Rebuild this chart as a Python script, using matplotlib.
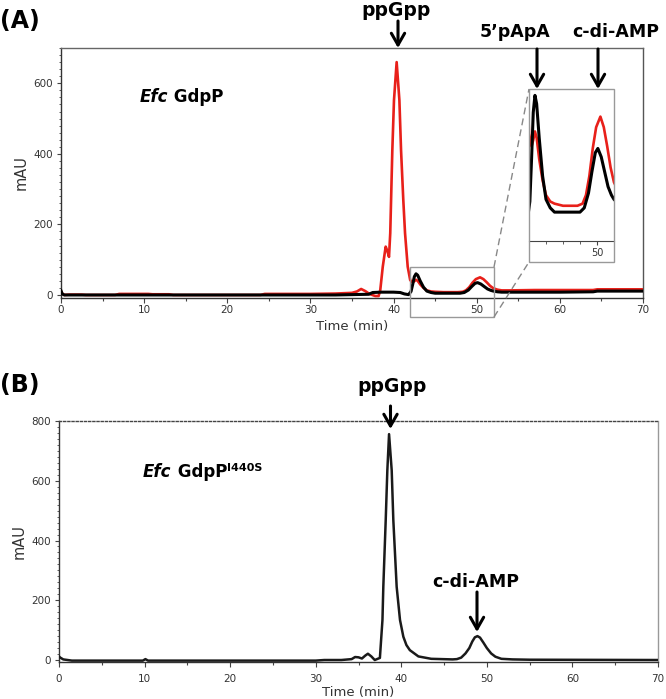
import matplotlib
matplotlib.use('Agg')
import matplotlib.pyplot as plt
from matplotlib.ticker import MultipleLocator, FixedLocator
from matplotlib.patches import Rectangle, FancyArrowPatch
from matplotlib.lines import Line2D

plt.rcParams['font.family'] = ['DejaVu Sans']

# ---------------- data ----------------
# Panel A, red trace (Time min, mAU)
a_red_t = [0, 0.15, 0.4, 1, 2.5, 3, 6.5, 7, 10.5, 11, 13, 13.5, 24, 24.5, 30, 33, 35,
           35.6, 36.1, 36.6, 37.1, 37.8, 38.2, 38.4, 38.7, 39.05, 39.25, 39.45, 39.6,
           39.7, 39.85, 40.05, 40.37, 40.7, 40.9, 41.17, 41.38, 41.7, 42.0, 42.3,
           42.5, 42.7, 42.9, 43.2, 43.6, 44.0, 44.5, 45, 46, 47, 47.7, 48.3,
           48.7, 49.1, 49.5, 49.9, 50.4, 50.8, 51.2, 51.6, 52.0, 52.5, 53.0, 54, 57,
           60, 64, 64.5, 70]
a_red_v = [10, 4, 0, 1, 1, 0, 0, 3, 3, 2, 2, 0, 0, 3, 3, 4, 6,
           10, 17, 11, 3, -3, -3, 14, 80, 137, 125, 108, 175,
           269, 410, 552, 660, 552, 410, 269, 175, 80, 42, 36,
           39, 43, 40, 30, 20, 13, 10, 9, 8, 8, 8, 9,
           13, 22, 35, 45, 50, 45, 36, 26, 19, 15, 13, 13, 14,
           14, 14, 16, 16]

# Panel A, black trace
a_blk_t = [0, 0.15, 0.4, 33, 35, 37, 37.5, 38.5, 40, 40.8, 41.3, 41.8, 42.1, 42.3,
           42.5, 42.7, 42.9, 43.2, 43.6, 44.0, 44.5, 45, 46, 47, 48, 48.5, 49.0,
           49.4, 49.8, 50.1, 50.5, 50.9, 51.3, 51.7, 52.0, 52.5, 53, 55, 60, 64,
           64.5, 70]
a_blk_v = [12, 3, 0, 0, 1, 2, 7, 8, 8, 7, 3, 1, 10, 30,
           52, 60, 56, 40, 22, 11, 7, 5, 5, 5, 5, 7, 14,
           24, 33, 35, 31, 24, 17, 13, 11, 9, 8, 8, 8, 9,
           11, 11]

# Panel B trace
b_t = [0, 0.15, 0.5, 1, 1.5, 5, 9.8, 10.1, 10.4, 20, 30, 31, 33, 34.2, 34.6, 35.0,
       35.4, 35.8, 36.1, 36.5, 36.9, 37.5, 37.8, 37.9, 38.18, 38.37, 38.57,
       38.88, 39.07, 39.46, 39.85, 40.24, 40.6, 41.0, 42.0, 43.5, 46.0, 46.5,
       47.0, 47.5, 47.95, 48.3, 48.6, 48.9, 49.2, 49.6, 50.0, 50.5, 51.0, 51.7,
       53, 55, 70]
b_v = [12, 8, 2, 0, -2, -2, -2, 3, -2, -2, -2, 0, 0, 3, 10, 9,
       5, 15, 21, 12, 0, 7, 134, 245, 468, 635, 756,
       635, 468, 245, 134, 78, 50, 33, 12, 4, 2, 3,
       8, 22, 40, 62, 76, 80, 75, 58, 40, 22, 11, 4,
       2, 1, 0]

x_ticks = [0, 10, 20, 30, 40, 50, 60, 70]
a_y_ticks = [0, 200, 400, 600]
b_y_ticks = [0, 200, 400, 600, 800]
inset_ticks = [50]

RED = '#e8201a'
W, H = 666, 699
fig = plt.figure(figsize=(W / 100, H / 100), dpi=100)


def P(px, py):
    return (px / W, 1 - py / H)


def add_axes_px(l, t, r, b):
    x0, y0 = P(l, b)
    x1, y1 = P(r, t)
    return fig.add_axes([x0, y0, x1 - x0, y1 - y0])


def style_axes(ax, ymaj, xpad, ypad=3):
    ax.set_xlim(0, 70)
    ax.xaxis.set_major_locator(FixedLocator(x_ticks))
    ax.xaxis.set_minor_locator(MultipleLocator(5))
    ax.yaxis.set_major_locator(FixedLocator(ymaj))
    ax.yaxis.set_minor_locator(MultipleLocator(20))
    ax.tick_params(which='both', direction='out', color='#444', width=0.8,
                   labelsize=7.5, labelcolor='#333')
    ax.tick_params(axis='x', which='major', length=3.5, pad=xpad)
    ax.tick_params(axis='x', which='minor', length=2.5)
    ax.tick_params(axis='y', which='major', length=3, pad=ypad)
    ax.tick_params(axis='y', which='minor', length=1.8, width=0.6)
    for s in ['left', 'bottom']:
        ax.spines[s].set_color('#333')
        ax.spines[s].set_linewidth(1.0)


# ---------------- Panel A ----------------
axA = add_axes_px(61, 48, 643, 297.8)
axA.plot(a_red_t, a_red_v, color=RED, lw=1.9, zorder=3)
axA.plot(a_blk_t, a_blk_v, color='black', lw=2.2, zorder=4)
axA.set_ylim(-8, 700)
style_axes(axA, a_y_ticks, xpad=2)
axA.spines['top'].set_color('#666')
axA.spines['right'].set_color('#555')
axA.spines['top'].set_linewidth(1.0)
axA.spines['right'].set_linewidth(1.0)
axA.set_ylabel('mAU', fontsize=10.5, color='#333', labelpad=3)
axA.set_xlabel('Time (min)', fontsize=9.5, color='#333', labelpad=3)

# zoom box and connector lines (figure pixels)
fig.add_artist(Rectangle(P(410, 317), (494 - 410) / W, (317 - 267) / H,
                         transform=fig.transFigure, fill=False, ec='#999', lw=1.0))
fig.add_artist(Line2D([P(494, 267)[0], P(529, 89)[0]], [P(494, 267)[1], P(529, 89)[1]],
                      transform=fig.transFigure, color='#888', lw=1.0, ls=(0, (5, 3))))
fig.add_artist(Line2D([P(494, 317)[0], P(529, 262)[0]], [P(494, 317)[1], P(529, 262)[1]],
                      transform=fig.transFigure, color='#888', lw=1.0, ls=(0, (5, 3))))

# inset
axI = add_axes_px(529, 89, 614, 241)
axI.plot(a_red_t, a_red_v, color=RED, lw=1.9, zorder=3)
axI.plot(a_blk_t, a_blk_v, color='black', lw=2.2, zorder=4)
axI.set_xlim(42, 52)
axI.set_ylim(-8.6, 63)
axI.set_yticks([])
axI.xaxis.set_major_locator(FixedLocator(inset_ticks))
axI.xaxis.set_minor_locator(MultipleLocator(2))
axI.tick_params(which='both', direction='out', color='#444', labelsize=7,
                labelcolor='#333', pad=2)
axI.tick_params(which='major', length=3)
axI.tick_params(which='minor', length=2)
for s in ['left', 'right', 'top']:
    axI.spines[s].set_visible(False)
axI.spines['bottom'].set_color('#444')
fig.add_artist(Rectangle(P(529, 262), (614 - 529) / W, (262 - 89) / H,
                         transform=fig.transFigure, fill=False, ec='#999', lw=1.0))

# ---------------- Panel B ----------------
axB = add_axes_px(59, 421, 658, 662.4)
axB.plot(b_t, b_v, color='#1a1a1a', lw=1.8, zorder=3)
axB.set_ylim(-8, 800)
style_axes(axB, b_y_ticks, xpad=5)
axB.spines['top'].set_color('#444')
axB.spines['top'].set_linestyle((0, (1.5, 1.5)))
axB.spines['top'].set_linewidth(1.0)
axB.spines['right'].set_color('#999')
axB.spines['right'].set_linewidth(1.0)
axB.set_ylabel('mAU', fontsize=10.5, color='#333', labelpad=3)
axB.set_xlabel('Time (min)', fontsize=9.5, color='#333', labelpad=1)

# ---------------- text & arrows ----------------
fig.text(*P(0, 21), '(A)', fontsize=17, fontweight='bold', ha='left', va='center')
fig.text(*P(0, 385), '(B)', fontsize=17, fontweight='bold', ha='left', va='center')

fig.text(*P(396, 16), 'ppGpp', fontsize=13.5, fontweight='bold', ha='center', va='baseline')
fig.text(*P(515, 37), "5\u2019pApA", fontsize=12.5, fontweight='bold', ha='center', va='baseline')
fig.text(*P(616, 37), 'c-di-AMP', fontsize=12.5, fontweight='bold', ha='center', va='baseline')
fig.text(*P(392, 392), 'ppGpp', fontsize=13.5, fontweight='bold', ha='center', va='baseline')
fig.text(*P(476, 587), 'c-di-AMP', fontsize=12.5, fontweight='bold', ha='center', va='baseline')

tA = fig.text(*P(140, 102), 'Efc', fontsize=12, fontweight='bold', style='italic',
              ha='left', va='baseline')
fig.canvas.draw()
axA.annotate(' GdpP', xy=(1, 0), xycoords=tA, fontsize=12, fontweight='bold',
             va='bottom', ha='left')
tB = fig.text(*P(143, 477), 'Efc', fontsize=12, fontweight='bold', style='italic',
              ha='left', va='baseline')
tB2 = axB.annotate(' GdpP', xy=(1, 0), xycoords=tB, fontsize=12, fontweight='bold',
                   va='bottom', ha='left')
axB.annotate('I440S', xy=(1, 0.45), xycoords=tB2, fontsize=8, fontweight='bold',
             va='bottom', ha='left')


def arrow(x, y0, y1):
    fig.add_artist(FancyArrowPatch(P(x, y0), P(x, y1), transform=fig.transFigure,
                                   arrowstyle='->,head_length=0.42,head_width=0.24',
                                   mutation_scale=20, lw=2.2, color='black',
                                   shrinkA=0, shrinkB=0))


arrow(398, 21, 48)
arrow(537, 49, 89)
arrow(598, 49, 89)
arrow(390.5, 406, 429)
arrow(477, 592, 632)

fig.savefig('out.png', dpi=100)
